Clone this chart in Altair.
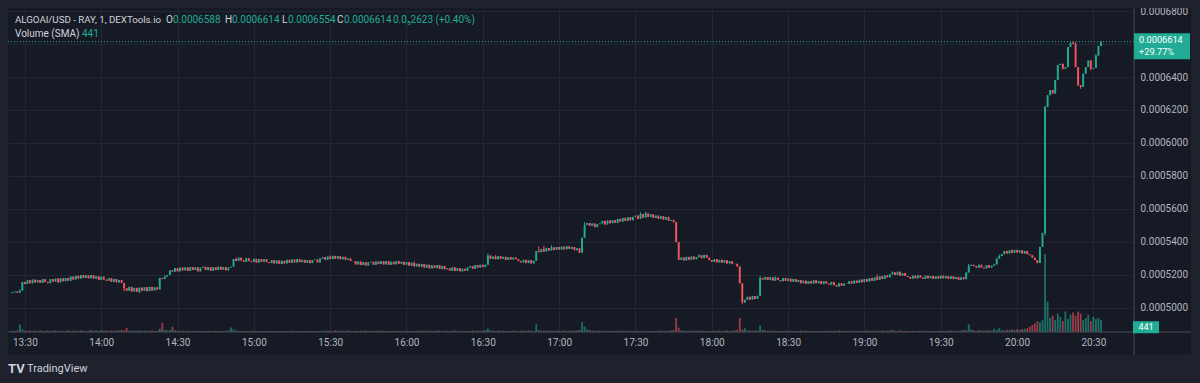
import altair as alt
import pandas as pd
import jinja2

# ---------------- data (prices in units of 1e-7 USD) ----------------
FIRST_MINUTE = 25          # first candle at 13:25 (minutes after 13:00)
FIRST_OPEN = 5090

CLOSE_1325 = [5095, 5100, 5092, 5105, 5158,
              5145, 5168, 5150, 5172, 5155, 5170, 5152, 5175, 5158, 5150, 5175, 5160, 5178, 5155, 5180,
              5162, 5182, 5165,
              5190, 5172, 5195, 5178, 5200, 5182, 5198, 5180, 5200, 5178, 5192, 5170, 5190,
              5172, 5165, 5180, 5158, 5176, 5155, 5170, 5152]
CLOSE_1409 = [5120, 5105, 5128, 5100, 5122, 5098, 5124, 5104, 5126, 5102, 5128, 5106, 5125, 5112,
              5182, 5175, 5190, 5200, 5228, 5220,
              5242, 5222, 5245, 5228, 5246, 5225, 5248, 5230, 5246, 5222, 5244, 5250, 5230, 5248, 5226,
              5246, 5230, 5250, 5232, 5248, 5228, 5245, 5250]
CLOSE_1452 = [5297, 5285, 5305, 5288, 5280, 5302, 5284, 5278, 5298, 5275, 5296, 5280, 5295, 5278,
              5272, 5290, 5270, 5288, 5266, 5286, 5270, 5292, 5274, 5294, 5276, 5296, 5278, 5292, 5274,
              5290, 5272, 5290, 5294, 5276,
              5300, 5308, 5292, 5312, 5296, 5316, 5298, 5314, 5295, 5310, 5292, 5300, 5284,
              5285, 5264, 5282, 5260, 5278, 5258, 5276, 5280, 5262, 5282, 5266, 5284,
              5264, 5284, 5262, 5280, 5265, 5284, 5268]
CLOSE_1558 = [5280, 5262, 5278, 5256, 5274, 5252, 5268, 5250,
              5266, 5244, 5262, 5240, 5258, 5242, 5260, 5236, 5255, 5234,
              5240, 5226, 5246, 5224, 5242, 5222, 5238, 5226,
              5246, 5254, 5238, 5260, 5245, 5262, 5248,
              5262, 5318,
              5298, 5312, 5295, 5314, 5298, 5310, 5292, 5308, 5294, 5306, 5296,
              5284, 5276, 5292, 5272, 5290, 5270, 5286]
CLOSE_1651 = [5345, 5338, 5358, 5342, 5364, 5348, 5368, 5352, 5370, 5354, 5372, 5356, 5374, 5358, 5370,
              5350, 5362, 5335, 5425, 5503, 5515, 5498, 5512, 5490, 5508,
              5512, 5528, 5506, 5530, 5514, 5532, 5516,
              5540, 5524, 5546, 5528, 5550, 5532, 5552,
              5560, 5540, 5570, 5548, 5574, 5552, 5568, 5546,
              5560, 5540, 5556, 5536, 5552, 5528, 5534,
              5520, 5400, 5291]
CLOSE_1748 = [5306, 5288, 5310, 5292, 5312, 5295, 5308,
              5320, 5302, 5322, 5305,
              5290, 5280, 5296, 5276, 5292, 5274, 5290, 5270, 5284, 5266,
              5268, 5252, 5150, 5035, 5050,
              5068, 5050, 5072, 5055, 5074, 5182,
              5172, 5188, 5170, 5186, 5166, 5184, 5170, 5162, 5182, 5164, 5178, 5160, 5176, 5158, 5170,
              5150, 5166, 5146, 5164, 5148, 5168, 5150, 5164, 5145, 5162, 5148, 5142, 5158,
              5138, 5130, 5150, 5134, 5148]
CLOSE_1853 = [5146, 5162, 5148, 5166, 5152, 5172, 5156, 5176, 5160, 5182, 5165, 5186, 5170, 5192, 5176,
              5198, 5186, 5204,
              5216, 5200, 5220, 5196, 5212, 5194,
              5188, 5178, 5196, 5180, 5198, 5184, 5176, 5196, 5180, 5194, 5176, 5192, 5178, 5196, 5180,
              5194, 5176, 5192, 5175, 5188, 5170, 5186, 5174,
              5215, 5255, 5262,
              5254, 5244, 5262, 5246, 5240, 5260, 5244, 5256, 5264,
              5300, 5315,
              5326, 5346, 5330, 5350, 5334, 5352, 5336, 5350, 5330, 5346, 5326,
              5320, 5305, 5290, 5272, 5370, 5455]
CLOSE_2011 = [6218, 6290, 6321, 6300, 6382, 6473, 6480, 6450, 6460, 6582, 6606, 6600, 6460, 6351,
              6340, 6420, 6460, 6500, 6450, 6455, 6530, 6588, 6614]

VOL_1325 = [120, 90, 150, 700, 260, 110, 80, 140, 95, 120, 70, 160, 100, 85, 130, 75, 110, 140, 90, 120,
            80, 100, 150, 95, 130, 85, 110, 140, 100, 90, 120, 180, 110, 140, 95, 170, 120, 150, 90, 130,
            110, 160, 140, 200]
VOL_1409 = [150, 380, 120, 90, 140, 100, 160, 80, 130, 110, 90, 140, 100, 120, 300, 850, 200, 150, 180, 480,
            130, 100, 90, 120, 80, 110, 70, 100, 90, 120, 80, 100, 60, 110, 90, 80, 120, 70, 100, 90,
            110, 150, 420]
VOL_1452 = [260, 120, 90, 110, 80, 100, 70, 90, 120, 80, 60, 90, 100, 70, 80, 110, 60, 90, 70, 100,
            80, 60, 90, 110, 70, 80, 100, 60, 90, 80, 120, 90, 70, 100, 80, 110, 90, 140, 100, 80,
            150, 120, 90, 110, 80, 130, 100, 90, 120, 80, 110, 90, 130, 100, 80, 120, 90, 110, 100, 130,
            90, 110, 80, 120, 100, 90]
VOL_1558 = [100, 80, 120, 90, 110, 70, 100, 130, 90, 110, 80, 120, 100, 90, 140, 110, 80, 100, 120, 90,
            110, 130, 100, 90, 120, 80, 110, 100, 140, 90, 120, 100, 130, 180, 320, 150, 110, 90, 130, 100,
            120, 90, 110, 80, 130, 100, 90, 120, 110, 90, 140, 110, 100]
VOL_1651 = [700, 180, 130, 110, 150, 100, 120, 90, 130, 110, 100, 140, 90, 120, 110, 150, 130, 200, 900, 500,
            250, 180, 140, 120, 100, 130, 90, 110, 80, 120, 100, 90, 130, 80, 110, 100, 90, 120, 80, 100,
            110, 90, 80, 120, 100, 90, 110, 80, 100, 130, 90, 120, 100, 150, 200, 1300, 400]
VOL_1748 = [150, 100, 120, 90, 130, 100, 110, 90, 120, 100, 80, 110, 90, 120, 100, 130, 90, 110, 140, 100,
            120, 150, 200, 1300, 250, 350, 120, 150, 110, 130, 140, 600, 200, 150, 110, 90, 120, 100, 80, 110,
            90, 120, 100, 80, 110, 90, 100, 130, 90, 110, 80, 100, 120, 90, 110, 80, 100, 90, 120, 100,
            110, 90, 130, 100, 120]
VOL_1853 = [100, 120, 90, 110, 80, 120, 100, 90, 130, 100, 110, 90, 120, 100, 140, 110, 130, 150, 180, 120,
            100, 130, 90, 110, 100, 80, 120, 90, 100, 110, 80, 120, 100, 90, 110, 80, 100, 120, 90, 110,
            100, 130, 90, 120, 110, 150, 200, 180, 700, 250, 150, 120, 180, 130, 110, 140, 160, 120, 300, 200,
            350, 180, 150, 200, 160, 220, 180, 250, 200, 280, 300, 350, 500, 650, 800, 1000, 900, 1100]
VOL_2011 = [7200, 2800, 1300, 1500, 1100, 1700, 1400, 1000, 1900, 1200, 1600, 1800, 1500, 1900, 1700,
            1100, 1300, 1600, 1000, 1400, 1200, 1300, 1100]

UPPER_WICKS = {3: 5112, 60: 5198, 88: 5305, 125: 5318, 158: 5280, 187: 5330, 190: 5320, 207: 5372,
               209: 5378, 212: 5380, 225: 5520, 247: 5580, 249: 5585, 270: 5325, 294: 5195, 300: 5192,
               340: 5205, 346: 5222, 376: 5268, 388: 5325, 393: 5355, 406: 6225, 416: 6615, 417: 6618,
               418: 6612, 426: 6540}
LOWER_WICKS = {44: 5102, 50: 5090, 287: 5022, 288: 5030, 406: 5440, 413: 6445, 419: 6345, 420: 6328,
               424: 6440}

TICK_MINUTES = [30, 60, 90, 120, 150, 180, 210, 240, 270, 300, 330, 360, 390, 420, 450]
TICK_LABELS = ["13:30", "14:00", "14:30", "15:00", "15:30", "16:00", "16:30", "17:00", "17:30",
               "18:00", "18:30", "19:00", "19:30", "20:00", "20:30"]
PRICE_TICKS = [0.0005, 0.00052, 0.00054, 0.00056, 0.00058, 0.0006, 0.00062, 0.00064, 0.00066, 0.00068]

LAST_PRICE = 0.0006614
LAST_CHANGE = "+29.77%"
VOLUME_SMA = 441
LEGEND_TITLE = "ALGOAI/USD - RAY, 1, DEXTools.io"
OHLC_KEYS = ["O", "H", "L", "C"]
OHLC_VALUES = ["0.0006588", "0.0006614", "0.0006554", "0.0006614"]
CHANGE_TEXT = "0.0\u20852623 (+0.40%)"
VOLUME_TITLE = "Volume (SMA)"

# ---------------- styling ----------------
UP = "#22ab94"
DOWN = "#f7525f"
PANEL = "#161a25"
OUTER = "#1e222d"
GRID = "#232735"
BORDER = "#4a4d57"
LABEL = "#b2b5be"
TEXT = "#d1d4dc"
FONT = "Roboto"
W, H = 1126, 324

closes = CLOSE_1325 + CLOSE_1409 + CLOSE_1452 + CLOSE_1558 + CLOSE_1651 + CLOSE_1748 + CLOSE_1853 + CLOSE_2011
vols = VOL_1325 + VOL_1409 + VOL_1452 + VOL_1558 + VOL_1651 + VOL_1748 + VOL_1853 + VOL_2011

rows = []
prev = FIRST_OPEN
for i, (c, v) in enumerate(zip(closes, vols)):
    o = prev
    hi = UPPER_WICKS.get(i, max(o, c))
    lo = LOWER_WICKS.get(i, min(o, c))
    rows.append(dict(t=FIRST_MINUTE + i, open=o * 1e-7, close=c * 1e-7, high=hi * 1e-7,
                     low=lo * 1e-7, vol=v, dir="up" if c >= o else "down"))
    prev = c
df = pd.DataFrame(rows)

xs = alt.Scale(domain=[25.325, 464.0], nice=False, zero=False)
ys = alt.Scale(domain=[0.00048545, 0.00068182], nice=False, zero=False)
vs = alt.Scale(domain=[0, 30000], nice=False)
col = alt.Color("dir:N", scale=alt.Scale(domain=["up", "down"], range=[UP, DOWN]), legend=None)

labels_js = "[" + ",".join("'%s'" % s for s in TICK_LABELS) + "]"
mins_js = "[" + ",".join(str(m) for m in TICK_MINUTES) + "]"
x_axis = alt.Axis(values=TICK_MINUTES, labelExpr=f"{labels_js}[indexof({mins_js}, datum.value)]",
                  grid=True, gridColor=GRID, domain=False, ticks=False, labelColor=LABEL,
                  labelFont=FONT, labelFontSize=10, labelPadding=5, labelFlush=False, title=None)
y_axis = alt.Axis(orient="right", values=PRICE_TICKS, format=".7f", grid=True, gridColor=GRID,
                  domain=False, ticks=False, labelColor=LABEL, labelFont=FONT, labelFontSize=10,
                  labelPadding=6, labelOverlap=False, labelBound=False, title=None)
X = alt.X("t:Q", scale=xs, axis=x_axis)

base = alt.Chart(df)
dummy = alt.Chart(pd.DataFrame({"a": [0]}))

strip = dummy.mark_rect(color=OUTER).encode(x=alt.value(-1), x2=alt.value(W + 60),
                                             y=alt.value(347), y2=alt.value(370))

vol = base.mark_bar(size=1.8, opacity=0.6).encode(
    x=X, y=alt.Y("vol:Q", scale=vs, axis=None), color=col)

wicks = base.mark_rule(strokeWidth=1).encode(
    x=X, y=alt.Y("low:Q", scale=ys, axis=None), y2="high:Q", color=col)

bodies = base.mark_bar(size=1.9).encode(
    x=X, y=alt.Y("open:Q", scale=ys, axis=y_axis), y2="close:Q", color=col)

last_df = pd.DataFrame({"p": [LAST_PRICE], "label": [f"{LAST_PRICE:.7f}"], "chg": [LAST_CHANGE]})
last = alt.Chart(last_df)
last_line = last.mark_rule(color=UP, strokeDash=[1, 2], strokeWidth=1).encode(
    y=alt.Y("p:Q", scale=ys, axis=None), x=alt.value(0), x2=alt.value(W))

vline = dummy.mark_rule(color=BORDER, strokeWidth=1).encode(x=alt.value(W), y=alt.value(0), y2=alt.value(347))
hline = dummy.mark_rule(color=BORDER, strokeWidth=1).encode(x=alt.value(0), x2=alt.value(W + 57), y=alt.value(H))

price_tag = last.mark_tick(color=UP, thickness=26, size=56, yOffset=4.5, opacity=1).encode(
    y=alt.Y("p:Q", scale=ys, axis=None), x=alt.value(W + 28))
price_txt = last.mark_text(align="left", baseline="middle", color="white", font=FONT, fontSize=9.2,
                           dy=-1.5).encode(
    y=alt.Y("p:Q", scale=ys, axis=None), x=alt.value(W + 5), text="label:N")
chg_txt = last.mark_text(align="left", baseline="middle", color="white", font=FONT, fontSize=9.2,
                         dy=10.5).encode(
    y=alt.Y("p:Q", scale=ys, axis=None), x=alt.value(W + 5), text="chg:N")

sma_df = pd.DataFrame({"v": [VOLUME_SMA], "label": [str(VOLUME_SMA)]})
sma = alt.Chart(sma_df)
sma_tag = sma.mark_tick(color=UP, thickness=12, size=26, opacity=1).encode(
    y=alt.Y("v:Q", scale=vs, axis=None), x=alt.value(W + 12))
sma_txt = sma.mark_text(align="center", baseline="middle", color="white", font=FONT, fontSize=9).encode(
    y=alt.Y("v:Q", scale=vs, axis=None), x=alt.value(W + 12), text="label:N")

texts = []
def txt(s, x, y, color, size=10, weight="normal"):
    texts.append(dummy.mark_text(align="left", baseline="middle", color=color, font=FONT,
                                 fontSize=size, fontWeight=weight).encode(
        x=alt.value(x), y=alt.value(y), text=alt.value(s)))

txt(LEGEND_TITLE, 7, 12, TEXT, size=9.7)
for k, v, xk, gap in zip(OHLC_KEYS, OHLC_VALUES, [158, 217, 274, 329], [7, 7, 6, 7]):
    txt(k, xk, 12, TEXT)
    txt(v, xk + gap, 12, UP)
txt(CHANGE_TEXT, 385, 12, UP)
txt(VOLUME_TITLE, 7, 26, TEXT)
txt(str(VOLUME_SMA), 74, 26, UP)
txt("TV", 0, 361, TEXT, size=13, weight="bold")
txt("TradingView", 19, 361, TEXT, size=11)

chart = alt.layer(strip, vol, wicks, bodies, last_line, vline, hline, price_tag, price_txt, chg_txt,
                  sma_tag, sma_txt, *texts).resolve_scale(y="independent").properties(
    width=W, height=H,
    padding={"left": 0, "top": 0, "right": 57, "bottom": 43},
    autosize=alt.AutoSizeParams(type="none"),
    background=PANEL,
).configure_view(stroke=None)

PAGE_TEMPLATE = jinja2.Template("""<!DOCTYPE html>
<html>
<head>
<meta charset="utf-8">
<style>
html, body { background: #1e222d; }
#{{ output_div }}.vega-embed { width: 100%; display: flex; }
</style>
<script type="text/javascript" src="{{ base_url }}/vega@{{ vega_version }}"></script>
<script type="text/javascript" src="{{ base_url }}/vega-lite@{{ vegalite_version }}"></script>
<script type="text/javascript" src="{{ base_url }}/vega-embed@{{ vegaembed_version }}"></script>
</head>
<body>
<div id="{{ output_div }}"></div>
<script>
(function(vegaEmbed) {
  var spec = {{ spec }};
  var embedOpt = {{ embed_options }};
  vegaEmbed("#{{ output_div }}", spec, embedOpt).catch(function(err) {
    document.getElementById("{{ output_div }}").innerHTML = String(err);
  });
})(vegaEmbed);
</script>
</body>
</html>""")

chart.save("out.html", embed_options={"renderer": "svg", "actions": False}, template=PAGE_TEMPLATE)
